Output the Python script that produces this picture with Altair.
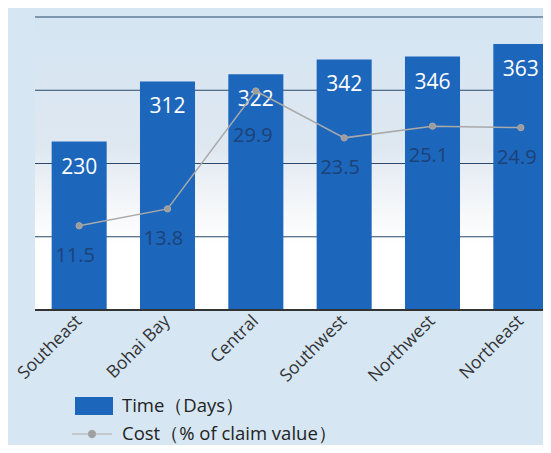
import altair as alt
import pandas as pd

regions = ["Southeast", "Bohai Bay", "Central", "Southwest", "Northwest", "Northeast"]
time_days = [230, 312, 322, 342, 346, 363]
cost_pct = [11.5, 13.8, 29.9, 23.5, 25.1, 24.9]
grid_values = [100, 200, 300, 400]
time_label = "Time（Days）"
cost_label = "Cost（% of claim value）"

df = pd.DataFrame({
    "region": regions,
    "time": time_days,
    "cost": cost_pct,
    "tseries": [time_label] * 6,
    "cseries": [cost_label] * 6,
})

W, H = 508, 293
FONT = "Open Sans"
BLUE = "#1c66bc"

xscale = alt.Scale(domain=regions, range=[0, 530], paddingInner=0.377, paddingOuter=0.1885)
xenc = alt.X("region:N", sort=regions, scale=xscale, title=None,
             axis=alt.Axis(labelAngle=-45, labelAlign="right", labelBaseline="middle",
                           labelFontSize=17.5, labelColor="#333333", labelFont=FONT,
                           domain=False, ticks=False, grid=False, labelPadding=8))
tscale = alt.Scale(domain=[0, 400], nice=False)
cscale = alt.Scale(domain=[0, 40], nice=False)

bg = alt.Chart(pd.DataFrame({"a": [0]})).mark_rect(
    color=alt.LinearGradient(
        gradient="linear", x1=0, x2=0, y1=0, y2=1,
        stops=[alt.GradientStop(offset=0, color="#d4e5f3"),
               alt.GradientStop(offset=0.45, color="#dfe8f1"),
               alt.GradientStop(offset=0.62, color="#f2f5f8"),
               alt.GradientStop(offset=0.78, color="#ffffff"),
               alt.GradientStop(offset=1, color="#ffffff")])
).encode(x=alt.value(0), x2=alt.value(W), y=alt.value(0), y2=alt.value(H))

grid = alt.Chart(pd.DataFrame({"g": grid_values})).mark_rule(color="#2b4a6b", strokeWidth=1).encode(
    y=alt.Y("g:Q", scale=tscale, axis=None), x=alt.value(0), x2=alt.value(W))

bars = alt.Chart(df).mark_bar(clip=True).encode(
    x=xenc,
    y=alt.Y("time:Q", scale=tscale, title=None, axis=None),
    color=alt.Color("tseries:N", scale=alt.Scale(domain=[time_label], range=[BLUE]),
                    legend=alt.Legend(title=None, orient="none", legendX=40, legendY=370,
                                      symbolType="M-1,-0.47L1,-0.47L1,0.47L-1,0.47Z",
                                      symbolSize=1444, symbolStrokeWidth=0,
                                      labelFontSize=18.5, labelFont=FONT, labelColor="#222222",
                                      labelOffset=9, labelLimit=0)),
)

baseline = alt.Chart(pd.DataFrame({"v": [0]})).mark_rule(color="#333333", strokeWidth=2).encode(
    y=alt.Y("v:Q", scale=tscale, axis=None), x=alt.value(0), x2=alt.value(W))

bar_text = alt.Chart(df).mark_text(color="white", fontSize=21, font=FONT,
                                   baseline="alphabetic", dy=32).encode(
    x=alt.X("region:N", sort=regions, scale=xscale),
    y=alt.Y("time:Q", scale=tscale, axis=None),
    text=alt.Text("time:Q"))

line = alt.Chart(df).mark_line(
    strokeWidth=1.5,
    point=alt.OverlayMarkDef(filled=True, fill="#9c9c9c", stroke="#dcdcdc", strokeWidth=1, size=40)
).encode(
    x=alt.X("region:N", sort=regions, scale=xscale),
    y=alt.Y("cost:Q", scale=cscale, axis=None),
    stroke=alt.Stroke("cseries:N", scale=alt.Scale(domain=[cost_label], range=["#a9a9a9"]),
                      legend=alt.Legend(title=None, orient="none", legendX=36, legendY=396,
                                        symbolType="M-1,0L1,0M-0.18,0a0.18,0.18 0 1,0 0.36,0a0.18,0.18 0 1,0 -0.36,0",
                                        symbolSize=1600, symbolStrokeWidth=1.2,
                                        symbolFillColor="#9c9c9c",
                                        labelFontSize=18.5, labelFont=FONT, labelColor="#222222",
                                        labelOffset=9, labelLimit=0)),
)

cost_text_base = alt.Chart(df).encode(
    x=alt.X("region:N", sort=regions, scale=xscale),
    y=alt.Y("cost:Q", scale=cscale, axis=None),
    text=alt.Text("cost:Q", format=".1f"))

cost_text = cost_text_base.mark_text(color="#1d3c6c", fontSize=20, font=FONT,
                                     baseline="alphabetic", dy=36, dx=-4, opacity=0.85
                                     ).transform_filter(alt.datum.cost < 29)
cost_text_peak = cost_text_base.mark_text(color="#1d3c6c", fontSize=20, font=FONT,
                                          baseline="alphabetic", dy=51, dx=-3, opacity=0.85
                                          ).transform_filter(alt.datum.cost >= 29)

chart = alt.layer(bg, grid, bars, baseline, bar_text, line, cost_text, cost_text_peak).resolve_scale(
    y="independent"
).properties(
    width=W, height=H, background="#d6e6f3",
    autosize=alt.AutoSizeParams(type="none"),
    padding={"left": 27, "top": 9, "right": 0, "bottom": 135}
).configure_view(stroke=None).configure(font=FONT)

chart.save("out.html", embed_options={"renderer": "svg", "actions": False})
